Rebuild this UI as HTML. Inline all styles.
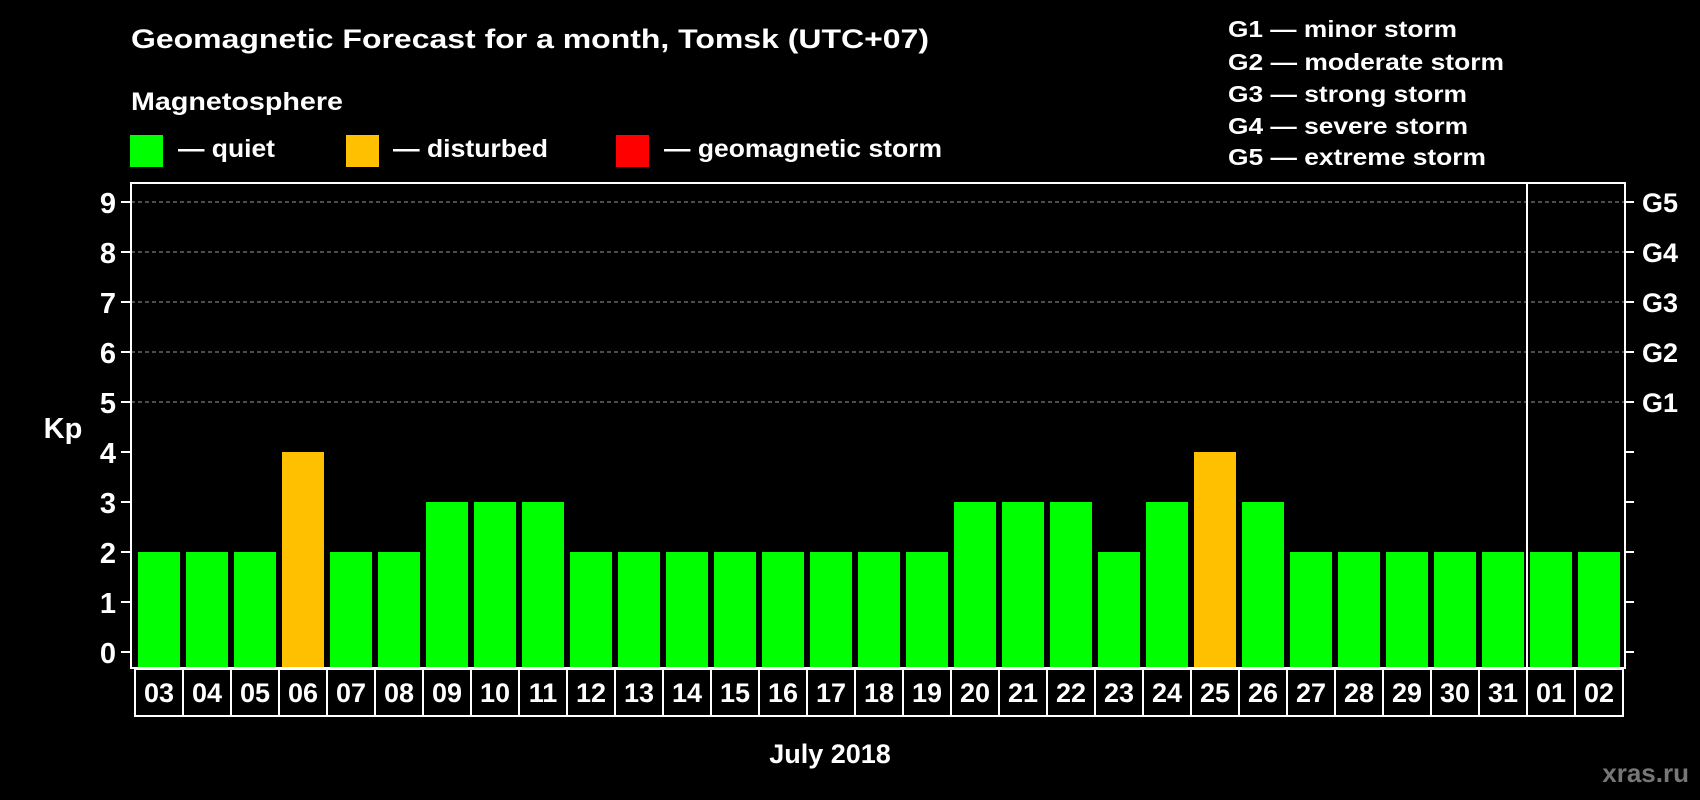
<!DOCTYPE html>
<html><head><meta charset="utf-8"><style>
html,body{margin:0;padding:0;background:#000;}
svg{display:block;font-family:"Liberation Sans",Arial,sans-serif;font-weight:bold;}
</style></head><body>
<svg id="chart" width="1700" height="800" viewBox="0 0 1700 800">
<rect width="1700" height="800" fill="#000"/>
<text x="131" y="48" font-size="27" fill="#fff" textLength="798" lengthAdjust="spacingAndGlyphs">Geomagnetic Forecast for a month, Tomsk (UTC+07)</text>
<text x="131" y="110" font-size="25" fill="#fff" textLength="212" lengthAdjust="spacingAndGlyphs">Magnetosphere</text>
<g><rect x="130" y="135" width="33" height="32" fill="#00ff00"/><text x="178" y="157" font-size="25" fill="#fff" textLength="97" lengthAdjust="spacingAndGlyphs">— quiet</text></g>
<g><rect x="346" y="135" width="33" height="32" fill="#ffc000"/><text x="393" y="157" font-size="25" fill="#fff" textLength="155" lengthAdjust="spacingAndGlyphs">— disturbed</text></g>
<g><rect x="616" y="135" width="33" height="32" fill="#ff0000"/><text x="664" y="157" font-size="25" fill="#fff" textLength="278" lengthAdjust="spacingAndGlyphs">— geomagnetic storm</text></g>
<g font-size="23" fill="#fff">
<text x="1228" y="37" textLength="229" lengthAdjust="spacingAndGlyphs">G1 — minor storm</text>
<text x="1228" y="70" textLength="276" lengthAdjust="spacingAndGlyphs">G2 — moderate storm</text>
<text x="1228" y="102" textLength="239" lengthAdjust="spacingAndGlyphs">G3 — strong storm</text>
<text x="1228" y="134" textLength="240" lengthAdjust="spacingAndGlyphs">G4 — severe storm</text>
<text x="1228" y="165" textLength="258" lengthAdjust="spacingAndGlyphs">G5 — extreme storm</text>
</g>
<g id="plot"></g>
<text x="830" y="763" font-size="27" fill="#fff" text-anchor="middle">July 2018</text>
<text x="1689" y="782" font-size="26" fill="#777" text-anchor="end">xras.ru</text>
</svg>
<script>
const dates = ["03","04","05","06","07","08","09","10","11","12","13","14","15","16","17","18","19","20","21","22","23","24","25","26","27","28","29","30","31","01","02"];
const kpValues = [2,2,2,4,2,2,3,3,3,2,2,2,2,2,2,2,2,3,3,3,2,3,4,3,2,2,2,2,2,2,2];
const yTicks = [0,1,2,3,4,5,6,7,8,9];
const stormLabels = ["G1","G2","G3","G4","G5"];
const monthBreakIndex = 29;

const NS = "http://www.w3.org/2000/svg";
const g = document.getElementById("plot");
const L = 131, R = 1625, T = 183, B = 668;
const step = 48, x0 = 135;
function yScale(v){ return 652 - v * 50; }
function xScale(i){ return x0 + i * step; }
function mk(tag, attrs){ const e = document.createElementNS(NS, tag); for (const k in attrs) e.setAttribute(k, attrs[k]); g.appendChild(e); return e; }

yTicks.forEach(v => {
  const y = yScale(v);
  if (v >= 5) {
    const gl = mk("line", {x1:L, x2:R, y1:y, y2:y, stroke:"#999", "stroke-width":1, "stroke-dasharray":"4,3"});
    
    
  }
  mk("line", {x1:L-10, x2:L, y1:y, y2:y, stroke:"#fff", "stroke-width":2});
  mk("line", {x1:R, x2:R+9, y1:y, y2:y, stroke:"#fff", "stroke-width":2});
  const t = mk("text", {x:116, y:y+11, "font-size":29, fill:"#fff", "text-anchor":"end"});
  t.textContent = v;
  
  
});
stormLabels.forEach((s, i) => {
  const t = mk("text", {x:1642, y:yScale(5 + i)+10, "font-size":27, fill:"#fff"});
  t.textContent = s;
  
  
});
const yt = mk("text", {x:63, y:438, "font-size":29, fill:"#fff", "text-anchor":"middle"});
yt.textContent = "Kp";



kpValues.forEach((v, i) => {
  const col = v >= 5 ? "#ff0000" : (v >= 4 ? "#ffc000" : "#00ff00");
  const b = mk("rect", {x:xScale(i)+3, y:yScale(v), width:42, height:B-1-yScale(v), fill:col});
  
  
  const c = mk("rect", {x:xScale(i), y:669, width:step, height:47, fill:"none", stroke:"#fff", "stroke-width":2});
  
  
  const t = mk("text", {x:xScale(i)+step/2, y:702, "font-size":27, fill:"#fff", "text-anchor":"middle"});
  t.textContent = dates[i];
  
  
});
const fr = mk("rect", {x:L, y:T, width:R-L, height:B-T, fill:"none", stroke:"#fff", "stroke-width":2});


const sep = mk("line", {x1:xScale(monthBreakIndex), x2:xScale(monthBreakIndex), y1:T, y2:716, stroke:"#fff", "stroke-width":2});


</script>
</body></html>
